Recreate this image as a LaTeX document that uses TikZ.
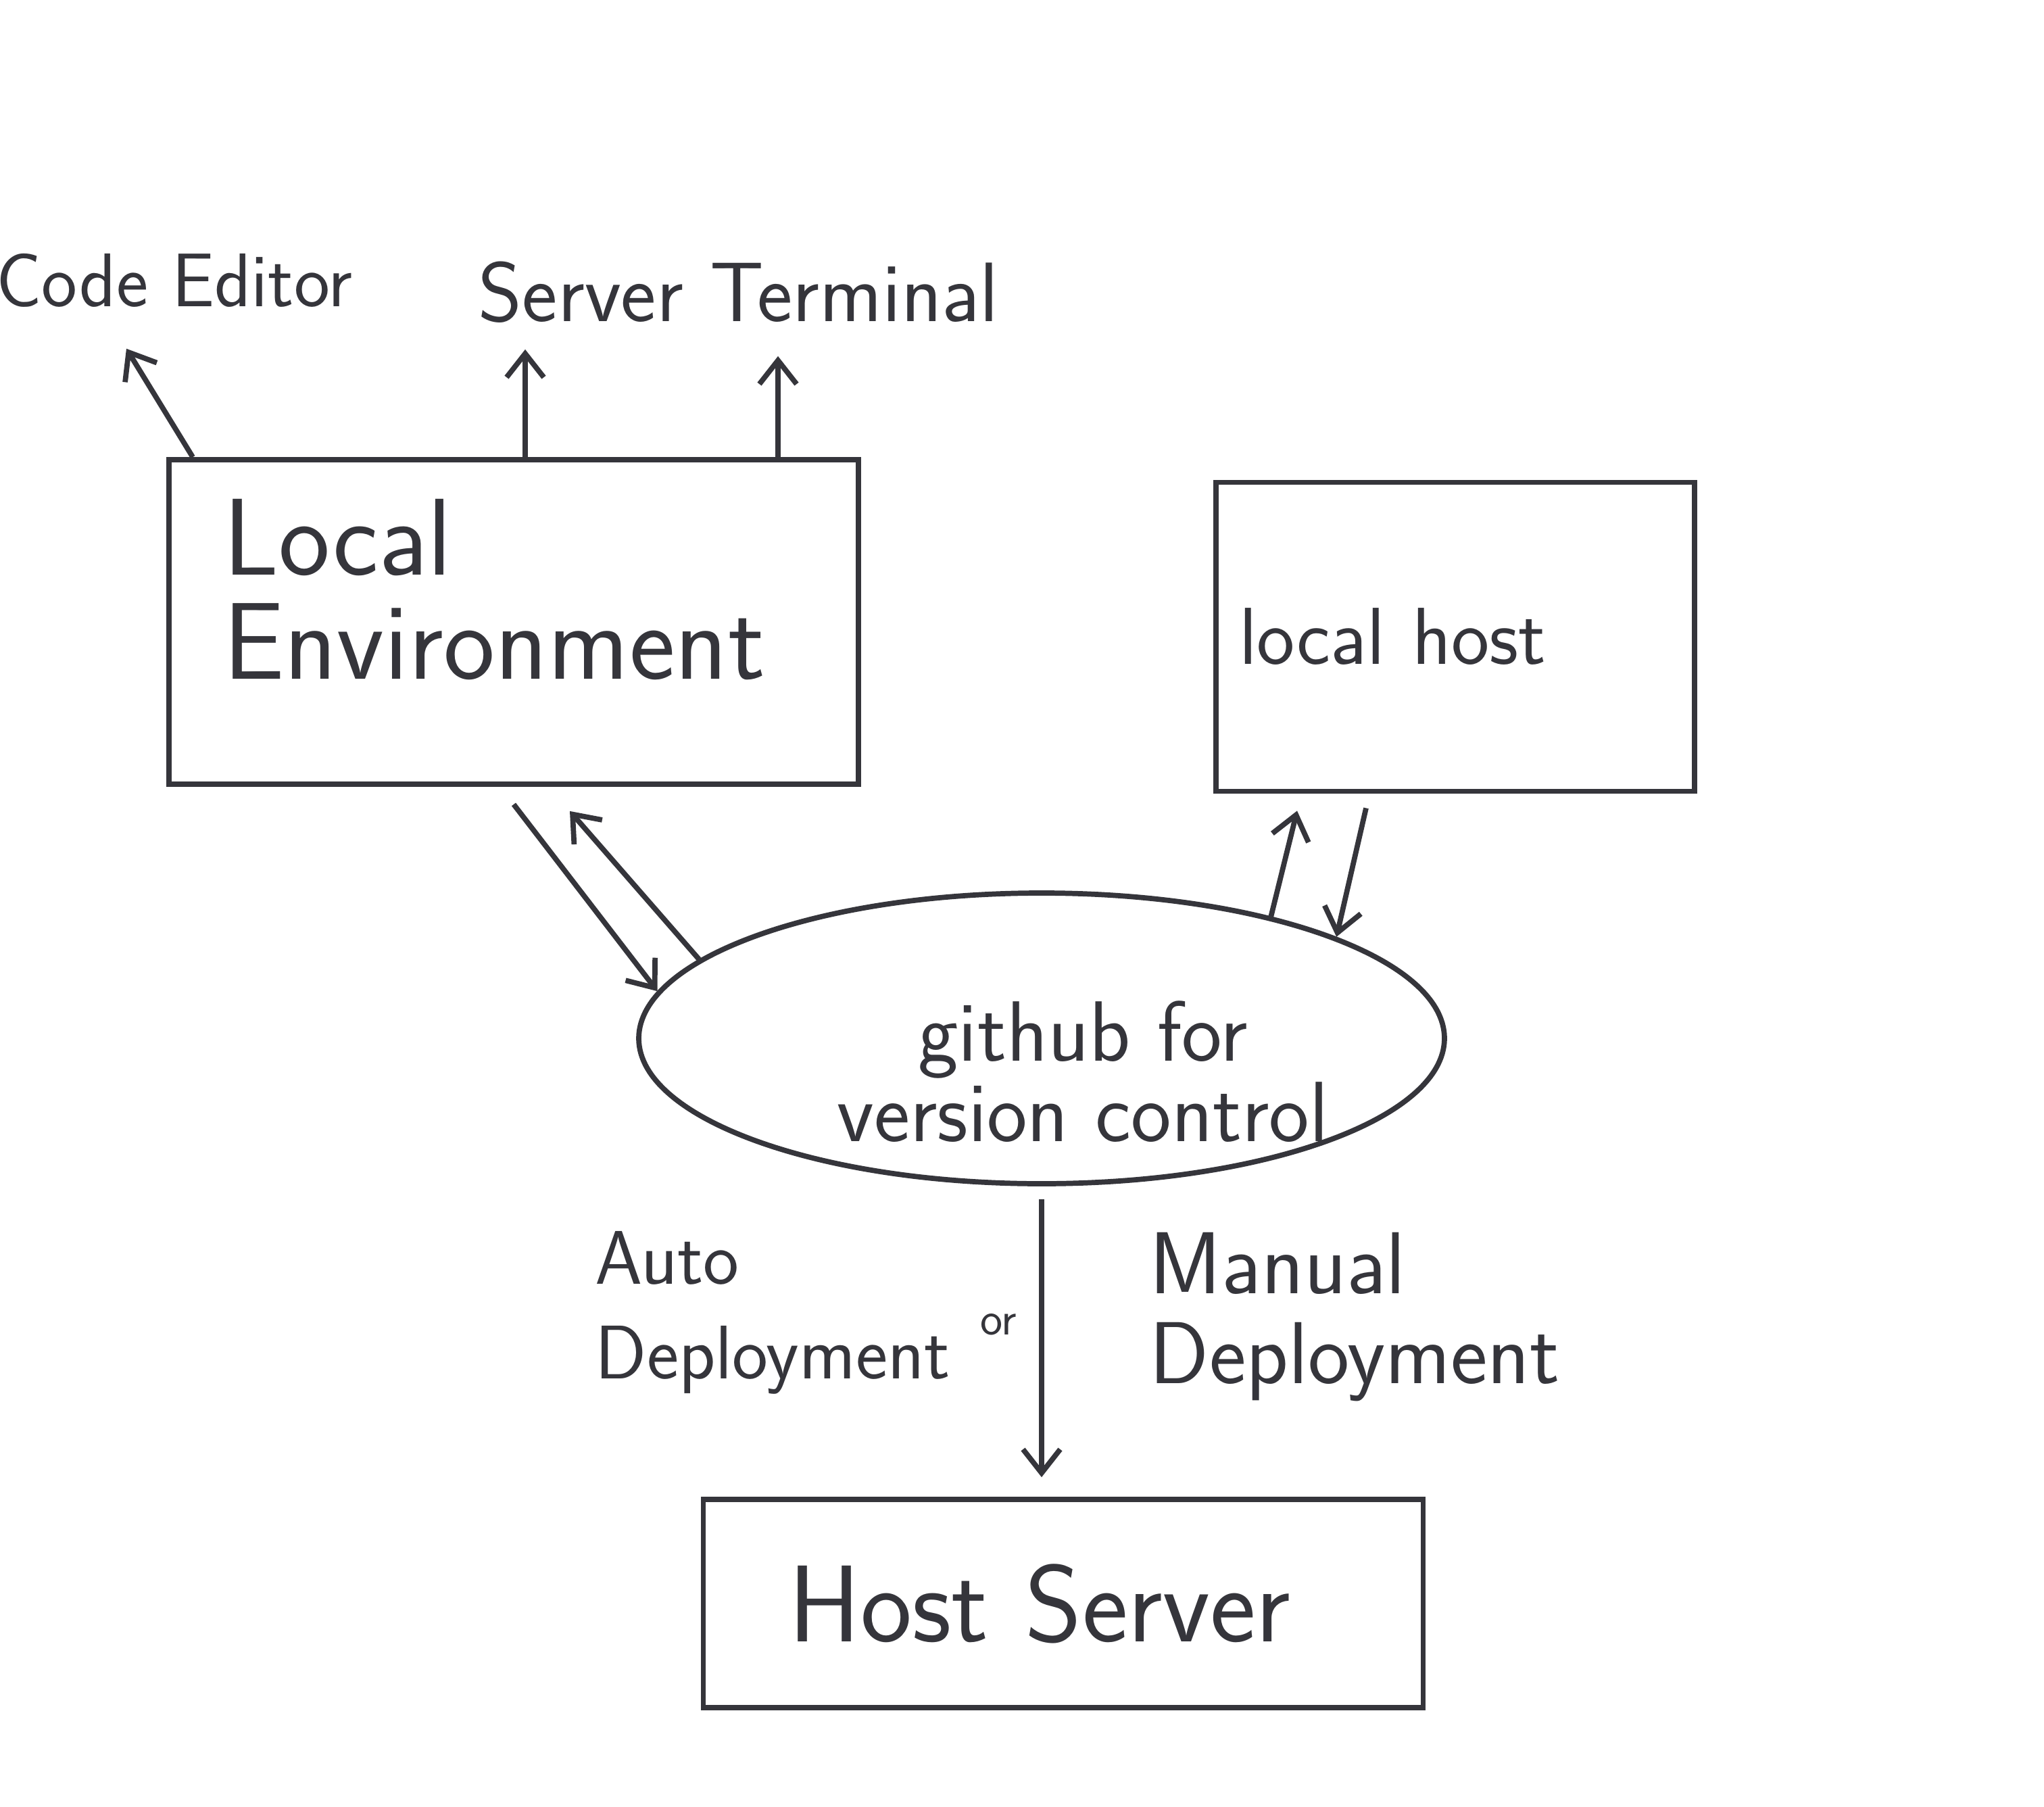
\documentclass[tikz,border=0pt]{standalone}
\usepackage{fontspec}
\usepackage{tikz}
\usetikzlibrary{arrows.meta,positioning,calc,shapes.geometric}
\definecolor{pen}{HTML}{35353B}

\begin{document}
\begin{tikzpicture}[>={Straight Barb[length=3.5mm,width=5.5mm]}, line width=2.2pt, color=pen,
  box/.style={draw, rectangle, align=left},
  lbl/.style={inner sep=0pt, font=\sffamily}]

  % Page
  \useasboundingbox (0,0) rectangle (30.24,-26.73);
  \fill[white] (0,0) rectangle (30.24,-26.73);

  % Define coordinates for nodes
  \node[box, minimum width=10.2cm, minimum height=4.8cm] (localenv) at (7.60,-9.20) {};
  \node[lbl, align=left, anchor=north west, font=\sffamily\fontsize{46}{44}\selectfont] (localtxt)
        at ($(localenv.north west)+(0.80,-0.58)$) {Local\\Environment};
  \node[box, minimum width=7.08cm, minimum height=4.57cm, text width=6.40cm, inner xsep=0.34cm,
        font=\sffamily\fontsize{34}{34}\selectfont] (localhost) at (21.53,-9.42) {local host};
  \node[draw, ellipse, minimum width=11.92cm, minimum height=4.3cm, inner sep=0pt] (github) at (15.41,-15.36) {};
  \node[lbl, align=center, font=\sffamily\fontsize{36}{34}\selectfont] (githubtxt) at (16.02,-15.85) {github for\\version control};
  \node[box, minimum width=10.65cm, minimum height=3.08cm, text width=8.13cm, inner xsep=1.26cm,
        font=\sffamily\fontsize{46}{46}\selectfont] (host) at (15.73,-23.72) {Host Server};
  \node[lbl, anchor=base east, font=\sffamily\fontsize{32}{32}\selectfont] (editor) at (5.25,-4.53) {Code Editor};
  \node[lbl, anchor=base west, font=\sffamily\fontsize{35.5}{35.5}\selectfont] (term) at (7.04,-4.75) {Server Terminal};
  \node[lbl, align=left, anchor=west, font=\sffamily\fontsize{32}{40}\selectfont] (auto) at (8.77,-19.42) {Auto\\Deployment};
  \node[lbl, align=left, anchor=west, font=\sffamily\fontsize{37}{38}\selectfont] (manual) at (16.97,-19.48) {Manual\\Deployment};
  \node[lbl, font=\sffamily\fontsize{20}{20}\selectfont] (or) at (14.77,-19.59) {or};

  % Draw arrows between nodes
  \draw[->] ($(localenv.north west)+(0.39,0)$) -- ($(editor.south east)+(-3.38,-0.58)$);
  \draw[->] ($(localenv.north)+(0.17,0)$) -- ($(term.south west)+(0.73,-0.36)$);
  \draw[->] ($(localenv.north)+(3.91,0)$) -- ($(term.south west)+(4.47,-0.46)$);
  \draw[->] ($(localenv.south)+(0,-0.26)$) -- (github.173);
  \draw[->] (github.167) -- ($(localenv.south)+(0.83,-0.36)$);
  \draw[->] (github.28) -- ($(localhost.south)+(-2.34,-0.25)$);
  \draw[->] ($(localhost.south)+(-1.32,-0.21)$) -- (github.19);
  \draw[->, shorten <=0.19cm, shorten >=0.29cm] (github.south) -- (github.south |- host.north);

\end{tikzpicture}
\end{document}
